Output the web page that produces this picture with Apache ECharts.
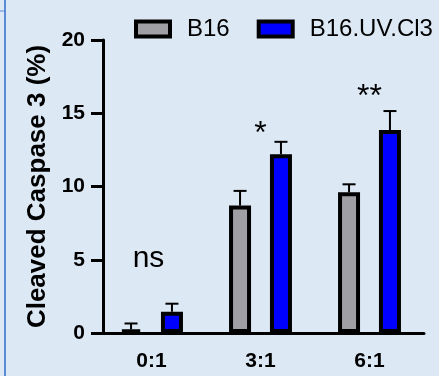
<!DOCTYPE html>
<html><head><meta charset="utf-8">
<script src="https://cdn.jsdelivr.net/npm/echarts@6/dist/echarts.min.js"></script>
<style>html,body{margin:0;padding:0;background:#dde8f5}#c{width:439px;height:376px}</style>
</head><body><div id="c"></div>
<script>
const categories = ['0:1', '3:1', '6:1'];
const seriesNames = ['B16', 'B16.UV.Cl3'];
const b16Values = [0.25, 8.7, 9.6];
const b16Errors = [0.4, 1.0, 0.55];
const uvValues = [1.45, 12.2, 13.85];
const uvErrors = [0.55, 0.85, 1.3];
const sigLabels = ['ns', '*', '**'];
const sigPos = [5.05, 13.6, 16.1];
const yTicks = [0, 5, 10, 15, 20];

const FONT = "'Liberation Sans', Arial, sans-serif";
const BAR_W = 22, BAR_GAP_PCT = 86;
const OFF = (BAR_W * 2 + BAR_W * BAR_GAP_PCT / 100) / 2 - BAR_W / 2;
const colors = ['#a09fa4', '#0000ff'];

function errSeries(vals, errs, sign) {
  return {
    type: 'custom', z: 1, silent: true,
    data: vals.map((v, i) => [i, v, errs[i]]),
    renderItem(params, api) {
      const b = api.coord([api.value(0), api.value(1)]);
      const t = api.coord([api.value(0), api.value(1) + api.value(2)]);
      const cx = b[0] + sign * OFF;
      const st = { stroke: '#000', lineWidth: 2 };
      return { type: 'group', children: [
        { type: 'line', shape: { x1: cx, y1: b[1], x2: cx, y2: t[1] }, style: st },
        { type: 'line', shape: { x1: cx - 6.5, y1: t[1], x2: cx + 6.5, y2: t[1] }, style: st }
      ]};
    }
  };
}

const legendRich = { s: { width: 19 } };
seriesNames.forEach((n, i) => {
  legendRich['b' + i] = { width: 30, height: 11, backgroundColor: colors[i], borderColor: '#000', borderWidth: 4 };
});

const chart = echarts.init(document.getElementById('c'));
chart.setOption({
  backgroundColor: '#dde8f5',
  animation: false,
  textStyle: { fontFamily: FONT },
  graphic: [
    { type: 'line', shape: { x1: 5, y1: 0, x2: 5, y2: 376 }, style: { stroke: '#5b8ad6', lineWidth: 2 } },
    { type: 'line', shape: { x1: 0, y1: 11, x2: 5, y2: 11 }, style: { stroke: '#5b8ad6', lineWidth: 1 } }
  ],
  legend: {
    left: 132, top: 17, padding: 0,
    icon: 'rect', itemWidth: 0, itemHeight: 0, itemGap: 25,
    formatter: n => '{b' + seriesNames.indexOf(n) + '|}{s|}' + n,
    textStyle: { fontSize: 24, color: '#000', fontFamily: FONT, rich: legendRich },
    data: seriesNames
  },
  grid: { left: 97, right: 15, top: 40, bottom: 43 },
  xAxis: {
    type: 'category', data: categories,
    axisLine: { lineStyle: { color: '#000', width: 3 } },
    axisTick: { alignWithLabel: true, length: 12, lineStyle: { color: '#000', width: 3 } },
    axisLabel: { fontSize: 21, fontWeight: 'bold', color: '#000', margin: 18, fontFamily: FONT }
  },
  yAxis: {
    type: 'value', min: yTicks[0], max: yTicks[yTicks.length - 1], interval: 5,
    offset: -6,
    name: 'Cleaved Caspase 3 (%)', nameLocation: 'middle', nameGap: 52,
    nameTextStyle: { fontSize: 26, fontWeight: 'bold', color: '#000', fontFamily: FONT },
    splitLine: { show: false },
    axisLine: { show: true, lineStyle: { color: '#000', width: 3 } },
    axisTick: { show: true, length: 12, lineStyle: { color: '#000', width: 3 } },
    axisLabel: { fontSize: 21, fontWeight: 'bold', color: '#000', margin: 18, fontFamily: FONT }
  },
  series: [
    { name: seriesNames[0], type: 'bar', z: 2, data: b16Values, barWidth: BAR_W, barGap: BAR_GAP_PCT + '%',
      itemStyle: { color: colors[0], borderColor: '#000', borderWidth: 4 } },
    { name: seriesNames[1], type: 'bar', z: 2, data: uvValues, barWidth: BAR_W, barGap: BAR_GAP_PCT + '%',
      itemStyle: { color: colors[1], borderColor: '#000', borderWidth: 4 } },
    errSeries(b16Values, b16Errors, -1),
    errSeries(uvValues, uvErrors, 1),
    { type: 'custom', z: 3, silent: true,
      data: sigLabels.map((s, i) => [i, sigPos[i]]),
      renderItem(params, api) {
        const p = api.coord([api.value(0), api.value(1)]);
        const lab = sigLabels[params.dataIndex];
        return { type: 'text', x: p[0] + (lab === 'ns' ? -3 : 0), y: p[1],
          style: { text: lab, fontSize: lab === 'ns' ? 30 : 32, fontFamily: FONT, fill: '#000',
                   align: 'center', verticalAlign: 'middle' } };
      }
    }
  ]
});
</script></body></html>
